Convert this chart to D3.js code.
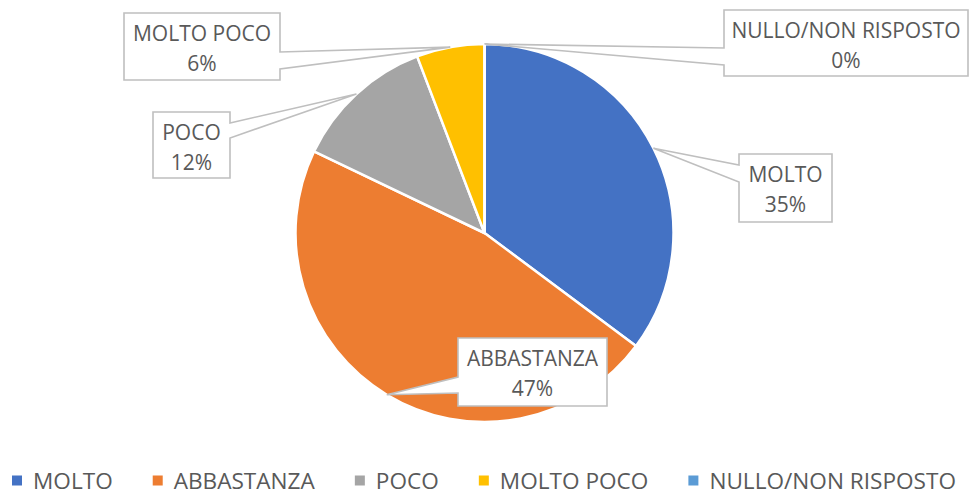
<!DOCTYPE html>
<html><head><meta charset="utf-8">
<script src="https://cdn.jsdelivr.net/npm/d3@7/dist/d3.min.js"></script>
<style>
html,body{margin:0;padding:0;background:#fff;}
svg{display:block;}
</style></head>
<body>
<svg id="chart" width="969" height="495"></svg>
<script>
// ---- data ----
const categories = ["MOLTO", "ABBASTANZA", "POCO", "MOLTO POCO", "NULLO/NON RISPOSTO"];
const values = [35.2, 46.9, 12.1, 5.8, 0];
const colors = ["#4472C4", "#ED7D31", "#A5A5A5", "#FFC000", "#5B9BD5"];

// ---- layout (style/positions) ----
const W = 969, H = 495;
const cx = 484.5, cy = 233, R = 189;
const fontFam = "'Open Sans', sans-serif";
const labelBoxes = {
  "MOLTO":              {x: 739, y: 154, w: 93,  h: 68, side: "left",  b1: 11, b2: 28},
  "ABBASTANZA":         {x: 458, y: 338, w: 149, h: 68, side: "left",  b1: 39, b2: 55},
  "POCO":               {x: 153, y: 112, w: 77,  h: 66, side: "right", b1: 11, b2: 26},
  "MOLTO POCO":         {x: 124, y: 13,  w: 156, h: 67, side: "right", b1: 39, b2: 56},
  "NULLO/NON RISPOSTO": {x: 724, y: 10,  w: 244, h: 66, side: "left",  b1: 38, b2: 55}
};

const svg = d3.select("#chart");
const total = d3.sum(values);
const data = categories.map((c, i) => ({cat: c, value: values[i], color: colors[i]}));

const pie = d3.pie().sort(null).value(d => d.value).startAngle(0).endAngle(2 * Math.PI);
const arcs = pie(data);
const arc = d3.arc().innerRadius(0).outerRadius(R);
const edgeArc = d3.arc().innerRadius(R).outerRadius(R);

const g = svg.append("g").attr("transform", `translate(${cx},${cy})`);
g.selectAll("path.slice").data(arcs).join("path")
  .attr("class", "slice")
  .attr("d", arc)
  .attr("fill", d => d.data.color)
  .attr("stroke", "#fff")
  .attr("stroke-width", 2.5)
  .attr("stroke-linejoin", "round");

// ---- callout labels ----
const pct = d3.format(".0%");
const labels = svg.append("g");
arcs.forEach(a => {
  const b = labelBoxes[a.data.cat];
  const [tx0, ty0] = edgeArc.centroid(a);
  const tx = tx0 + cx, ty = ty0 + cy;
  const x = b.x, y = b.y, w = b.w, h = b.h;
  let p;
  if (b.side === "right") {
    p = `M${x},${y}L${x + w},${y}L${x + w},${y + b.b1}L${tx},${ty}L${x + w},${y + b.b2}L${x + w},${y + h}L${x},${y + h}Z`;
  } else {
    p = `M${x},${y}L${x + w},${y}L${x + w},${y + h}L${x},${y + h}L${x},${y + b.b2}L${tx},${ty}L${x},${y + b.b1}Z`;
  }
  labels.append("path").attr("d", p)
    .attr("fill", "#fff").attr("stroke", "#BFBFBF").attr("stroke-width", 1.6)
    .attr("stroke-linejoin", "miter");
  const t = labels.append("text")
    .attr("text-anchor", "middle")
    .attr("font-family", fontFam).attr("font-size", 21)
    .attr("fill", "#595959");
  t.append("tspan").attr("x", x + w / 2).attr("y", y + 28).text(a.data.cat);
  t.append("tspan").attr("x", x + w / 2).attr("y", y + 58).text(pct(a.data.value / total));
});

// ---- legend ----
const legend = svg.append("g");
let lx = 12;
data.forEach(d => {
  legend.append("rect").attr("x", lx).attr("y", 475.5).attr("width", 10).attr("height", 10).attr("fill", d.color);
  const t = legend.append("text").attr("x", lx + 21).attr("y", 488.5)
    .attr("font-family", fontFam).attr("font-size", 22.6).attr("fill", "#595959").text(d.cat);
  const tw = t.node().getComputedTextLength();
  lx += 21 + tw + 40;
});
</script>
</body></html>
